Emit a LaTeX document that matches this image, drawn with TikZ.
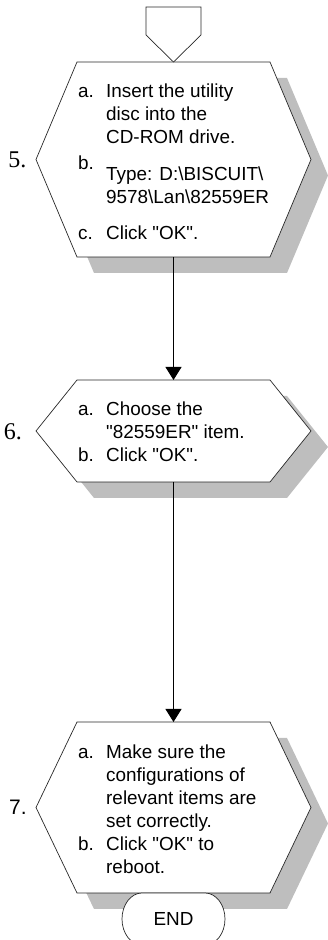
\documentclass[tikz,border=0pt]{standalone}
\usepackage{fontspec}
\setmainfont{Liberation Sans}[Ligatures=TeXOff]
\newfontfamily\numserif{Liberation Serif}
\usetikzlibrary{calc,arrows.meta}
\definecolor{shadowgray}{RGB}{190,190,190}
\definecolor{edgegray}{RGB}{40,40,40}
\tikzset{
  hexframe/.style={draw=none, minimum width=193pt, inner sep=0pt, outer sep=0pt},
  hexline/.style={draw=edgegray, line width=0.7pt, fill=white, line join=miter},
  shadowfill/.style={fill=shadowgray, draw=none},
  txt/.style={anchor=base west, inner sep=0pt, font=\fontsize{18.9}{23}\selectfont},
  numlbl/.style={inner sep=0pt, font=\numserif\fontsize{24}{24}\selectfont},
  numlblsans/.style={inner sep=0pt, font=\fontsize{21}{21}\selectfont},
  conn/.style={line width=1pt, draw=black, -{Triangle[width=16pt,length=13pt]}},
  endtxt/.style={inner sep=0pt, font=\fontsize{18.9}{23}\selectfont},
}
\newcommand\ind{\hspace*{28pt}}
\newcommand\lbl[1]{\makebox[28pt][l]{#1}}
\begin{document}
\begin{tikzpicture}[x=1pt,y=1pt]
\useasboundingbox (0,0) rectangle (327,940);
% frames
\node[hexframe, minimum height=195pt] (h5) at (173.5,780.5) {};
\node[hexframe, minimum height=102pt] (h6) at (173.5,509) {};
\node[hexframe, minimum height=171pt] (h7) at (173.5,132.5) {};
\node[draw=none, minimum width=55pt, minimum height=28pt, inner sep=0pt, outer sep=0pt] (offpage) at (173.5,919) {};
\node[draw=none, minimum width=103pt, minimum height=52pt, inner sep=0pt, outer sep=0pt] (endbox) at (173.5,21) {};
% shadows
\foreach \n in {h5,h6,h7}{
  \fill[shadowfill] ($(\n.north west)+(17,-16)$) -- ($(\n.north east)+(17,-16)$)
    -- ($(\n.east)+(58,-16)$) -- ($(\n.south east)+(17,-16)$)
    -- ($(\n.south west)+(17,-16)$) -- ($(\n.west)+(-24,-16)$) -- cycle;
}
% hexagons
\foreach \n in {h5,h6,h7}{
  \draw[hexline] (\n.north west) -- (\n.north east) -- ($(\n.east)+(41,0)$)
    -- (\n.south east) -- (\n.south west) -- ($(\n.west)+(-41,0)$) -- cycle;
}
% off-page connector
\draw[hexline] (offpage.south west) -- (offpage.north west) -- (offpage.north east)
  -- (offpage.south east) -- (h5.north) -- cycle;
% END terminator
\draw[hexline] ($(endbox.north west)+(20,0)$) -- ($(endbox.north east)+(-20,0)$)
  arc[start angle=90, end angle=-90, x radius=20, y radius=26]
  -- ($(endbox.south west)+(20,0)$)
  arc[start angle=270, end angle=90, x radius=20, y radius=26] -- cycle;
\node[endtxt] (endlabel) at (endbox.center) {END};
% connectors
\draw[conn] (h5.south) -- (h6.north);
\draw[conn] (h6.south) -- (h7.north);
% step numbers
\node[numlbl] (n5) at (17.5,780) {5.};
\node[numlbl] (n6) at (13,508) {6.};
\node[numlblsans] (n7) at (18,132.5) {7.};
% texts
\node[txt] (t5) at (78,842.5) {\begin{tabular}[t]{@{}l@{}}
\lbl{a.}Insert the utility\\
\ind disc into the\\
\ind CD-ROM drive.\\[14pt]
\lbl{\raisebox{11pt}[0pt][0pt]{b.}}Type: D:\textbackslash BISCUIT\textbackslash\\
\ind 9578\textbackslash Lan\textbackslash 82559ER\\[13pt]
\lbl{c.}Click "OK".
\end{tabular}};
\node[txt] (t6) at (78,524.5) {\begin{tabular}[t]{@{}l@{}}
\lbl{a.}Choose the\\
\ind "82559ER" item.\\
\lbl{b.}Click "OK".
\end{tabular}};
\node[txt] (t7) at (78,181.5) {\begin{tabular}[t]{@{}l@{}}
\lbl{a.}Make sure the\\
\ind configurations of\\
\ind relevant items are\\
\ind set correctly.\\
\lbl{b.}Click "OK" to\\
\ind reboot.
\end{tabular}};
\end{tikzpicture}
\end{document}
